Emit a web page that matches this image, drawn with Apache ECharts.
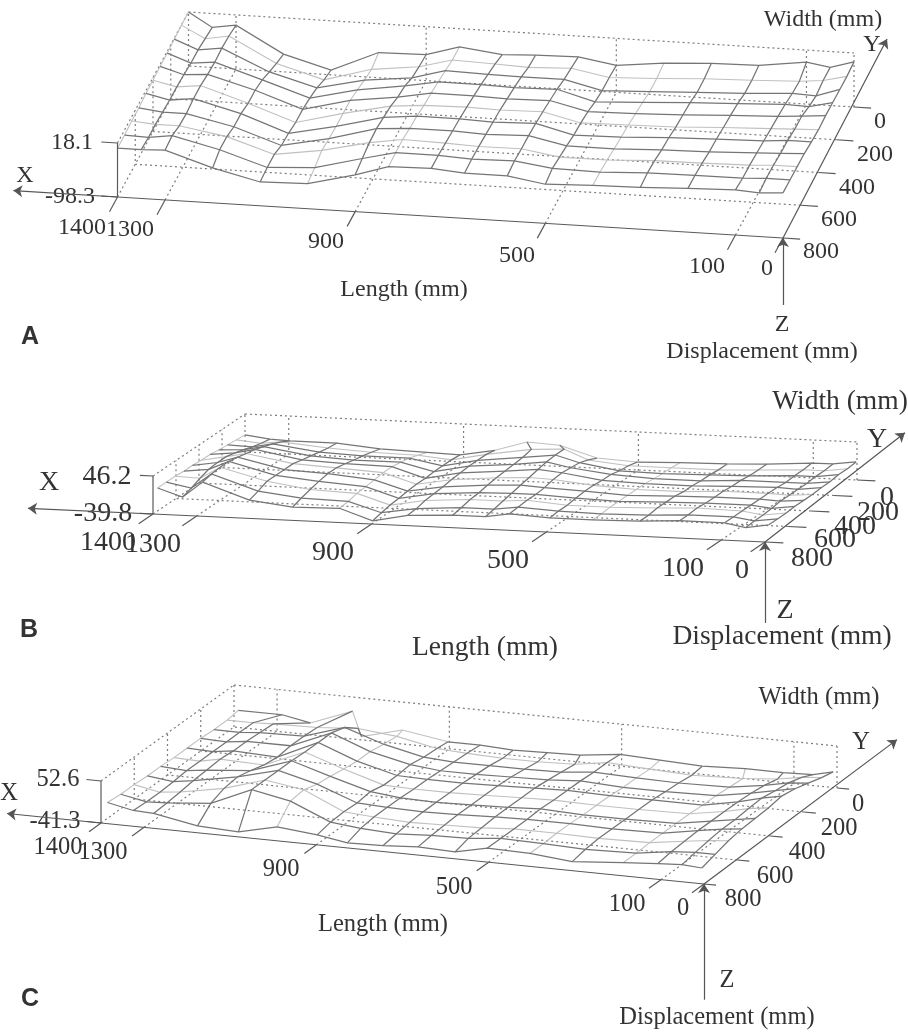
<!DOCTYPE html>
<html>
<head>
<meta charset="utf-8">
<style>html,body{margin:0;padding:0;background:#fff}#chart{width:908px;height:1032px;filter:blur(0.35px)}</style>
<script src="https://cdn.jsdelivr.net/npm/echarts@6/dist/echarts.min.js"></script>
</head>
<body>
<div id="chart"></div>
<script>
// ---- axis ticks ----
const lengthTicks = [1400, 1300, 900, 500, 100, 0];
const widthTicks = [0, 200, 400, 600, 800];

// ---- measurement grid, mm ----
const widthsA = [0, 80, 160, 240, 320, 400, 480, 560, 640, 720, 800];
const widthsB = [0, 76, 152, 228, 304, 380, 456, 532, 608, 684, 760];
const widthsC = [0, 80, 160, 240, 320, 400, 480, 560, 640, 720, 800];
const lengthsA = [1400, 1350, 1300, 1200, 1100, 1000, 900, 830, 740, 670, 580, 500, 400, 300, 200, 100, 50, 0];
const lengthsB = [1400, 1343, 1297, 1190, 1091, 984, 908, 828, 725, 650, 595, 503, 405, 297, 206, 103, 55, 2];
const lengthsC = [1385, 1325, 1278, 1176, 1081, 991, 898, 828, 745, 664, 578, 503, 404, 306, 188, 107, 51, 5];
const backRowLengthsA = lengthsA;
const backRowLengthsB = [1400, 1343, 1297, 1190, 1091, 984, 908, 828, 755, 680, 595, 503, 405, 297, 206, 103, 55, 2];
const backRowLengthsC = [1390, 1288, 1223, 1125, 1104, 1009, 903, 828, 752, 673, 596, 503, 411, 313, 213, 125, 56, 9];

// ---- displacement (mm): one line per length, width running 0 -> max ----
const displacementA = [
  [18, 18, 16, 14, 14, 12, 12, 9, 9, 7, 7],
  [-12, -8, -4, -4, -1, 1, 1, 3, 5, 5, 7],
  [-4, 1, 3, 1, 3, 7, 7, 3, 5, 12, 9],
  [-60, -52, -42, -31, -25, -25, -19, -19, -12, -12, -23],
  [-88, -81, -70, -64, -60, -60, -55, -53, -44, -44, -47],
  [-44, -52, -47, -40, -34, -34, -34, -32, -29, -38, -44],
  [-42, -40, -36, -25, -21, -12, -8, -4, -6, -12, -19],
  [-21, -21, -16, -12, -8, -6, -1, 1, 5, 5, 3],
  [-32, -24, -18, -12, -8, -4, -1, 1, 3, 5, 5],
  [-29, -27, -19, -14, -10, -6, -4, -2, 0, 1, -1],
  [-27, -23, -19, -12, -8, -4, -1, 1, 1, 3, -1],
  [-40, -38, -38, -34, -27, -23, -21, -16, -12, -8, -14],
  [-29, -34, -34, -29, -25, -21, -19, -16, -12, -10, -10],
  [-23, -28, -29, -23, -21, -19, -14, -12, -7, -5, -8],
  [-21, -25, -25, -19, -16, -14, -11, -10, -6, -4, -4],
  [-8, -21, -19, -14, -12, -10, -8, -6, -4, -4, -1],
  [-16, -16, -21, -16, -8, -8, -4, -4, -1, -1, -4],
  [-1, -4, -4, -4, -4, -6, -4, -1, -1, -1, -1]
];
const displacementB = [
  [-1, 1, 3, 5, 8, 8, 10, 10, 12, 12, 12],
  [-8, -4, 1, 8, 14, 19, 19, 17, 10, 1, -6],
  [-10, 1, 10, 17, 24, 28, 33, 37, 37, 35, 30],
  [-10, -8, -4, 1, 5, 10, 10, 10, 10, 1, -6],
  [-19, -13, -8, -4, 1, 5, 5, 1, -4, -10, -17],
  [-22, -15, -8, -4, -1, -1, -4, -6, -8, -13, -15],
  [-24, -22, -22, -22, -24, -24, -26, -29, -31, -35, -40],
  [-10, -6, -6, -6, -8, -10, -13, -15, -17, -22, -24],
  [12, 10, 5, 3, 1, -1, -4, -8, -10, -15, -19],
  [8, 14, 14, 12, 8, 3, -1, -6, -10, -15, -19],
  [-17, -8, -1, 1, 3, 1, -4, -6, -6, -8, -10],
  [-22, -17, -15, -10, -10, -8, -8, -10, -13, -13, -15],
  [-19, -17, -17, -15, -13, -13, -13, -13, -13, -15, -15],
  [-17, -17, -15, -15, -13, -13, -10, -10, -10, -13, -13],
  [-13, -13, -13, -10, -10, -8, -8, -8, -6, -8, -8],
  [-6, -8, -8, -10, -8, -8, -8, -8, -8, -8, -8],
  [-6, -8, -8, -10, -10, -10, -10, -13, -15, -15, -17],
  [1, -1, -1, -4, -4, -6, -6, -6, -8, -8, -8]
];
const displacementC = [
  [-3, -3, -3, -1, -1, -1, 1, 1, 3, 3, 6],
  [-3, -3, -3, -3, -3, -3, -3, -6, -8, -8, -6],
  [-15, -1, 1, 3, 3, 6, 3, 1, -3, -6, -8],
  [21, 1, 3, 3, -1, 3, 12, 19, 15, 3, -26],
  [-34, 8, 32, 41, 41, 41, 43, 43, 43, 43, -30],
  [-10, -1, 3, 8, 8, 12, 17, 21, 30, 26, -10],
  [-26, -19, -17, -12, -15, -15, -8, -12, -10, -12, -19],
  [-26, -23, -21, -19, -17, -17, -15, -15, -15, -19, -30],
  [-30, -26, -21, -19, -17, -17, -17, -17, -19, -23, -28],
  [-28, -26, -21, -17, -15, -15, -15, -15, -17, -19, -23],
  [-26, -23, -19, -15, -12, -12, -12, -12, -15, -17, -26],
  [-15, -12, -12, -10, -10, -10, -8, -10, -10, -10, -10],
  [-19, -17, -15, -15, -12, -12, -12, -10, -10, -12, -12],
  [-23, -21, -17, -15, -12, -12, -12, -12, -12, -15, -21],
  [-19, -17, -15, -12, -12, -10, -10, -10, -10, -12, -12],
  [-19, -10, -3, 1, 3, 3, 3, 3, 1, -1, -6],
  [-17, -1, 8, 12, 17, 15, 12, 12, 8, 3, -3],
  [-6, 3, 12, 21, 26, 21, 19, 17, 12, 3, -6]
];
const zRangeA = [-98.3, 18.1];
const zRangeB = [-39.8, 46.2];
const zRangeC = [-41.3, 52.6];

// ---- panel layout: where each box sits on the page, and its text ----
const panels = [
  { letter: 'A', lengths: lengthsA, back: backRowLengthsA, widths: widthsA, z: displacementA, range: zRangeA,
    corner: [783, 238], lVec: [-665.5, -41], wVec: [71, -131], zPerMm: 54 / 116.4,
    lightCols: [0, 5, 7, 12], lightRows: [1, 5, 8], lightBackSpan: null,
    lTickW: 90, wTickL: 36, zTickL: 34,
    xTipL: 1619, yTip: [0, -372, -83], zTail: -242.7,
    tick: 24, title: 24,
    lLabels: [[82, 228], [130, 230], [326, 242], [517, 256], [707, 267], [767, 269]],
    wLabels: [[880, 122], [875, 155], [857, 188], [839, 220], [821, 252]],
    zLabels: [[70, 197], [72, 143]],
    xText: [25, 176], yText: [872, 45], zText: [782, 325],
    dispText: [762, 352], widthText: [823, 20], lengthText: [404, 290], letterAt: [30, 337] },
  { letter: 'B', lengths: lengthsB, back: backRowLengthsB, widths: widthsB, z: displacementB, range: zRangeB,
    corner: [765, 542], lVec: [-612, -28], wVec: [92, -62], zPerMm: 38 / 86,
    lightCols: [0, 5, 12], lightRows: [1, 5, 8], lightBackSpan: [7, 11],
    lTickW: 125, wTickL: 42, zTickL: 30,
    xTipL: 1686, yTip: [0, -417, -6], zTail: -223,
    tick: 28, title: 27.5,
    lLabels: [[108, 543], [153, 545], [333, 553], [508, 561], [683, 569], [742, 571]],
    wLabels: [[887, 498], [878, 513], [855, 527], [835, 540], [812, 559]],
    zLabels: [[103, 514], [107, 477]],
    xText: [49, 483], yText: [877, 440], zText: [785, 611],
    dispText: [782, 637], widthText: [840, 402], lengthText: [485, 648], letterAt: [29, 630] },
  { letter: 'C', lengths: lengthsC, back: backRowLengthsC, widths: widthsC, z: displacementC, range: zRangeC,
    corner: [704, 884], lVec: [-603, -61], wVec: [133, -96], zPerMm: 42 / 93.9,
    lightCols: [0, 5, 12, 14], lightRows: [1, 5, 8], lightBackSpan: [2, 6],
    lTickW: 72, wTickL: 28, zTickL: 34,
    xTipL: 1618, yTip: [0, -361, -30], zTail: -300,
    tick: 24.5, title: 24.5,
    lLabels: [[58, 848], [103, 853], [281, 870], [454, 888], [627, 905], [683, 909]],
    wLabels: [[858, 805], [839, 829], [807, 853], [775, 877], [743, 900]],
    zLabels: [[55, 822], [58, 780]],
    xText: [9, 794], yText: [861, 743], zText: [727, 981],
    dispText: [717, 1018], widthText: [819, 698], lengthText: [383, 925], letterAt: [30, 999] }
];

const DARK = '#757575', LIGHT = '#c0c0c0', AXIS = '#5a5a5a', DOT = '#7d7d7d', INK = '#333';
const LMAX = 1400, WMAX = 800;

function project(p, L, W, z) {
  const a = L / LMAX, b = (WMAX - W) / WMAX, c = (z - p.range[0]) * p.zPerMm;
  return [p.corner[0] + p.lVec[0] * a + p.wVec[0] * b,
          p.corner[1] + p.lVec[1] * a + p.wVec[1] * b - c];
}

function linesSeries(polys, style, extra) {
  return Object.assign({
    type: 'lines', coordinateSystem: 'cartesian2d', polyline: true, silent: true,
    animation: false, symbol: 'none',
    lineStyle: Object.assign({ opacity: 1, curveness: 0 }, style),
    data: polys.map(c => ({ coords: c }))
  }, extra || {});
}

const series = [];
const graphics = [];
function text(str, at, size, fam, weight) {
  graphics.push({ type: 'text', silent: true, x: at[0], y: at[1],
    style: { text: str, textAlign: 'center', textVerticalAlign: 'middle', fill: INK,
             font: (weight || 'normal') + ' ' + size + 'px ' + (fam || '"Liberation Serif"') } });
}

panels.forEach(p => {
  const zB = p.range[0], zT = p.range[1];
  const P = (L, W, z) => project(p, L, W, z);

  // dotted box: floor grid, back wall, left wall
  const dots = [];
  dots.push([P(LMAX, 0, zT), P(0, 0, zT)], [P(LMAX, WMAX, zT), P(LMAX, 0, zT)]);
  dots.push([P(LMAX, WMAX, zB), P(LMAX, 0, zB), P(0, 0, zB)]);
  lengthTicks.forEach(L => {
    if (L !== LMAX && L !== 0) dots.push([P(L, WMAX, zB), P(L, 0, zB), P(L, 0, zT)]);
  });
  dots.push([P(0, 0, zB), P(0, 0, zT)], [P(LMAX, 0, zB), P(LMAX, 0, zT)]);
  widthTicks.forEach(W => {
    if (W !== 0 && W !== WMAX) dots.push([P(0, W, zB), P(LMAX, W, zB), P(LMAX, W, zT)]);
  });
  series.push(linesSeries(dots, { color: DOT, width: 1.2, type: [2, 3] }));

  // mesh
  const polyLight = [], polyDark = [];
  p.z.forEach((col, c) => {
    const poly = col.map((z, r) => P(r === 0 ? p.back[c] : p.lengths[c], p.widths[r], z));
    (p.lightCols.includes(c) ? polyLight : polyDark).push(poly);
  });
  p.widths.forEach((W, r) => {
    const poly = p.z.map((col, c) => P(r === 0 ? p.back[c] : p.lengths[c], W, col[r]));
    if (r === 0 && p.lightBackSpan) {
      const s = p.lightBackSpan;
      polyDark.push(poly.slice(0, s[0] + 1), poly.slice(s[1]));
      polyLight.push(poly.slice(s[0], s[1] + 1));
    } else {
      (p.lightRows.includes(r) ? polyLight : polyDark).push(poly);
    }
  });
  series.push(linesSeries(polyLight, { color: LIGHT, width: 1.1 }));
  series.push(linesSeries(polyDark, { color: DARK, width: 1.25 }));

  // solid axes and ticks
  const solid = [];
  solid.push([P(LMAX, WMAX, zB), P(0, WMAX, zB)]);
  solid.push([P(LMAX, WMAX, zT), P(LMAX, WMAX, zB)]);
  [zB, zT].forEach(z => solid.push([P(LMAX, WMAX, z), P(LMAX + p.zTickL, WMAX, z)]));
  lengthTicks.forEach(L => solid.push([P(L, WMAX, zB), P(L, WMAX + p.lTickW, zB)]));
  widthTicks.forEach(W => solid.push([P(0, W, zB), P(-p.wTickL, W, zB)]));
  series.push(linesSeries(solid, { color: AXIS, width: 1.2 }));

  // arrows X, Y, Z
  const arrows = [
    [P(LMAX, WMAX, zB), P(p.xTipL, WMAX, zB)],
    [P(0, WMAX, zB), P(p.yTip[0], p.yTip[1], p.yTip[2])],
    [P(0, WMAX, p.zTail), P(0, WMAX, zB)]
  ];
  series.push(linesSeries(arrows, { color: '#555', width: 1.2 },
    { polyline: false, symbol: ['none', 'arrow'], symbolSize: 9,
      data: arrows.map(c => ({ coords: c })) }));

  // text
  lengthTicks.forEach((v, i) => text(String(v), p.lLabels[i], p.tick));
  widthTicks.forEach((v, i) => text(String(v), p.wLabels[i], p.tick));
  p.range.forEach((v, i) => text(String(v), p.zLabels[i], p.tick));
  text('X', p.xText, p.tick);
  text('Y', p.yText, p.tick);
  text('Z', p.zText, p.tick);
  text('Displacement (mm)', p.dispText, p.title);
  text('Width (mm)', p.widthText, p.title);
  text('Length (mm)', p.lengthText, p.title);
  text(p.letter, p.letterAt, 25, '"Liberation Sans"', 'bold');
});

const chart = echarts.init(document.getElementById('chart'), null, { renderer: 'canvas', width: 908, height: 1032 });
chart.setOption({
  backgroundColor: '#ffffff',
  animation: false,
  grid: { left: 0, right: 0, top: 0, bottom: 0 },
  xAxis: { type: 'value', min: 0, max: 908, show: false },
  yAxis: { type: 'value', min: 0, max: 1032, inverse: true, show: false },
  series: series,
  graphic: graphics
});
</script>
</body>
</html>
